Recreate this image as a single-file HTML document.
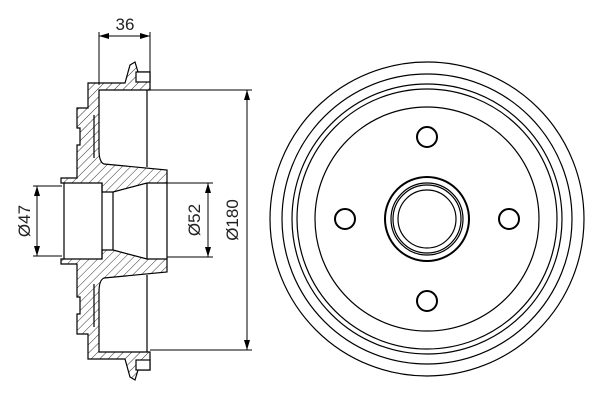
<!DOCTYPE html>
<html><head><style>body{margin:0;background:#fff}svg{display:block}</style></head><body>
<svg width="600" height="400" viewBox="0 0 600 400" xmlns="http://www.w3.org/2000/svg" font-family="Liberation Sans, sans-serif">
<defs>
<pattern id="h" width="6" height="6" patternUnits="userSpaceOnUse" patternTransform="rotate(45)"><line x1="0" y1="0" x2="0" y2="6" stroke="#000" stroke-width="0.8"/></pattern>
<marker id="a" markerWidth="10" markerHeight="8" refX="10" refY="4" orient="auto-start-reverse" markerUnits="userSpaceOnUse"><path d="M0,1 L10,4 L0,7z" fill="#000"/></marker>
</defs>
<g fill="none" stroke="#000" stroke-width="1.2">
<circle cx="427" cy="219" r="157"/>
<circle cx="427" cy="219" r="145"/>
<circle cx="427" cy="219" r="135"/>
<circle cx="427" cy="219" r="130"/>
<circle cx="427" cy="219" r="112"/>
<circle cx="427" cy="219" r="42" stroke-width="2"/>
<circle cx="427" cy="219" r="36"/>
<circle cx="427" cy="219" r="34"/>
<circle cx="427" cy="219" r="29"/>
<circle cx="427" cy="137" r="10" stroke-width="2"/>
<circle cx="427" cy="301" r="10" stroke-width="2"/>
<circle cx="345" cy="219" r="10" stroke-width="2"/>
<circle cx="509" cy="219" r="10" stroke-width="2"/>
</g>
<g stroke="#000" stroke-width="1.2" fill="url(#h)">
<path d="M88,83 L125,83 L130,65 L135,62 L138,72 L150,72 L150,90 L99,90 L99,150 Q99,162 104,164 L167,170 L167,183 L147,183 L113,192 L102,192 L102,183 L61,183 L61,178 L77,178 L77,145 L80,145 L80,128 L77,128 L77,108 L88,108 Z"/>
<path d="M88,359 L125,359 L130,377 L135,380 L138,370 L150,370 L150,352 L99,352 L99,292 Q99,280 104,278 L167,272 L167,259 L147,259 L113,250 L102,250 L102,259 L61,259 L61,264 L77,264 L77,297 L80,297 L80,314 L77,314 L77,334 L88,334 Z"/>
</g>
<g fill="none" stroke="#000" stroke-width="1.2">
<line x1="64" y1="183" x2="64" y2="259"/>
<line x1="102" y1="183" x2="102" y2="259"/>
<line x1="113" y1="192" x2="113" y2="250"/>
<line x1="147" y1="183" x2="147" y2="259"/>
<line x1="167" y1="183" x2="167" y2="259"/>
<line x1="94" y1="115" x2="94" y2="158"/>
<line x1="94" y1="284" x2="94" y2="327"/>
<line x1="147" y1="90" x2="147" y2="167"/>
<line x1="147" y1="275" x2="147" y2="352"/>
<rect x="136" y="72" width="14" height="10" fill="#fff"/>
<rect x="136" y="360" width="14" height="10" fill="#fff"/>
</g>
<g stroke="#000" stroke-width="1" fill="none">
<line x1="99" y1="32" x2="99" y2="85"/>
<line x1="150" y1="32" x2="150" y2="75"/>
<line x1="99" y1="36" x2="150" y2="36" marker-start="url(#a)" marker-end="url(#a)"/>
<line x1="150" y1="90" x2="252" y2="90"/>
<line x1="150" y1="350" x2="252" y2="350"/>
<line x1="247" y1="90" x2="247" y2="350" marker-start="url(#a)" marker-end="url(#a)"/>
<line x1="167" y1="183" x2="213" y2="183"/>
<line x1="167" y1="257" x2="213" y2="257"/>
<line x1="208" y1="183" x2="208" y2="257" marker-start="url(#a)" marker-end="url(#a)"/>
<line x1="33" y1="186" x2="62" y2="186"/>
<line x1="33" y1="256" x2="62" y2="256"/>
<line x1="37" y1="186" x2="37" y2="256" marker-start="url(#a)" marker-end="url(#a)"/>
</g>
<g font-size="17" fill="#222" text-anchor="middle">
<text x="125" y="30">36</text>
<text transform="translate(238,220) rotate(-90)">Ø180</text>
<text transform="translate(200,220) rotate(-90)">Ø52</text>
<text transform="translate(30,221) rotate(-90)">Ø47</text>
</g>
</svg>
</body></html>
